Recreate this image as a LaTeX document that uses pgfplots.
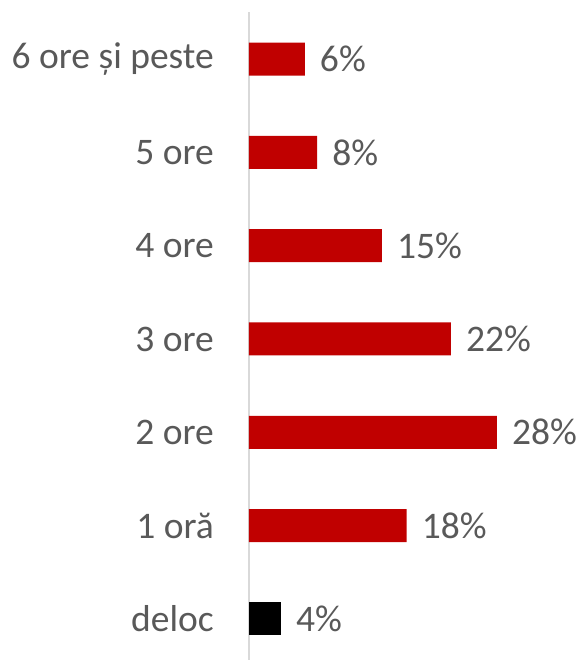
\documentclass[border=0pt]{standalone}
\usepackage{fontspec}
\setmainfont{Carlito}
\usepackage{pgfplots}
\pgfplotsset{compat=1.18}
\definecolor{barred}{HTML}{C00000}
\definecolor{txt}{HTML}{595959}
\definecolor{axl}{HTML}{D9D9D9}
\begin{document}
\begin{tikzpicture}
\begin{axis}[name=ax, xbar, scale only axis, width=330pt, height=648pt,
 xmin=0, xmax=37.26, ymin=-0.44, ymax=6.504,
 axis x line=none, axis y line=left, axis line style={-},
 y axis line style={draw=axl, line width=1.3pt},
 ytick={0,...,6},
 yticklabels={deloc,1 oră,2 ore,3 ore,4 ore,5 ore,6 ore și peste},
 major tick length=0pt, ytick style={draw=none},
 yticklabel style={font=\fontsize{37.5}{44}\selectfont, text=txt, inner sep=0pt, xshift=-35pt},
 bar width=33pt, bar shift=0pt,
 nodes near coords={\pgfplotspointmeta\%}, point meta=explicit symbolic,
 nodes near coords style={font=\fontsize{37.5}{44}\selectfont, text=txt, anchor=west, inner sep=0pt, xshift=15pt},
 clip=false]
\addplot[fill=barred, draw=none] table[x=v, y=c, meta=l]{
c v l
1 17.8 18
2 28.0 28
3 22.8 22
4 15.0 15
5 7.7 8
6 6.3 6
};
\addplot[fill=black, draw=none] table[x=v, y=c, meta=l]{
c v l
0 3.6 4
};
\end{axis}
\pgfresetboundingbox
\path ([xshift=-249pt]ax.south west) rectangle ([yshift=12pt]ax.north east);
\end{tikzpicture}
\end{document}
